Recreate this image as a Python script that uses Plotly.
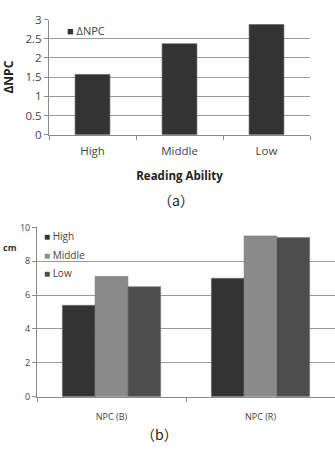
import plotly.graph_objects as go

W, H = 335, 452

# Chart (a)
a_categories = ["High", "Middle", "Low"]
a_values = [1.57, 2.37, 2.87]
a_series = "ΔNPC"
a_ticks = [0, 0.5, 1, 1.5, 2, 2.5, 3]
a_ticklabels = ["0", "0.5", "1", "1.5", "2", "2.5", "3"]

# Chart (b)
b_categories = ["NPC (B)", "NPC (R)"]
b_series = ["High", "Middle", "Low"]
b_values = {
    "High": [5.4, 7.0],
    "Middle": [7.1, 9.5],
    "Low": [6.5, 9.4],
}
b_colors = {"High": "#333333", "Middle": "#8a8a8a", "Low": "#4d4d4d"}
b_ticks = [0, 2, 4, 6, 8, 10]

FONT = "Open Sans, Noto Sans, sans-serif"
GRID = "#9a9a9a"
AXIS = "#8a8a8a"

fig = go.Figure()

fig.add_trace(go.Bar(
    x=a_categories, y=a_values, name=a_series, width=0.4,
    marker=dict(color="#333333", line=dict(color="#555555", width=0.6)),
    xaxis="x", yaxis="y", showlegend=False,
))

bw = 0.22
for i, s in enumerate(b_series):
    fig.add_trace(go.Bar(
        x=b_categories, y=b_values[s], name=s,
        width=bw, offset=-1.5 * bw + i * bw,
        marker=dict(color=b_colors[s], line=dict(color="#777777", width=0.6)),
        xaxis="x2", yaxis="y2", showlegend=False,
    ))

def px(x):
    return x / W

def py(y):
    return 1 - y / H

fig.update_layout(
    width=W, height=H,
    margin=dict(l=0, r=0, t=0, b=0),
    paper_bgcolor="white", plot_bgcolor="white",
    font=dict(family=FONT, color="#444444"),
    barmode="overlay",
    showlegend=False,
    xaxis=dict(
        domain=[px(49), px(310)], anchor="y",
        showline=True, linecolor=AXIS, linewidth=1,
        ticks="outside", tickson="boundaries", ticklen=4, tickcolor=AXIS,
        tickfont=dict(size=11.5, color="#444444"),
        ticklabelstandoff=6,
        showgrid=False,
        title=dict(text="<b>Reading Ability</b>", font=dict(size=11.5, color="#222222"), standoff=14),
    ),
    yaxis=dict(
        domain=[py(131), py(12)], anchor="x",
        range=[0, 3], tickvals=a_ticks, ticktext=a_ticklabels,
        showline=True, linecolor=AXIS, linewidth=1,
        ticks="outside", ticklen=4, tickcolor=AXIS,
        tickfont=dict(size=11.5, color="#444444"),
        showgrid=True, gridcolor=GRID, gridwidth=1,
        zeroline=False,
        title=dict(text="<b>ΔNPC</b>", font=dict(size=12, color="#222222"), standoff=10),
    ),
    xaxis2=dict(
        domain=[px(37), 1.0], anchor="y2",
        showline=True, linecolor=AXIS, linewidth=1,
        ticks="outside", tickson="boundaries", ticklen=4, tickcolor=AXIS,
        tickfont=dict(size=9, color="#444444"),
        ticklabelstandoff=12,
        showgrid=False,
    ),
    yaxis2=dict(
        domain=[py(402), py(227)], anchor="x2",
        range=[0, 10], tickvals=b_ticks,
        showline=True, linecolor=AXIS, linewidth=1,
        ticks="outside", ticklen=4, tickcolor=AXIS,
        tickfont=dict(size=9, color="#444444"),
        showgrid=True, gridcolor=GRID, gridwidth=1,
        zeroline=False,
    ),
)

def legend_item(x, y, color, label, size):
    fig.add_annotation(
        text=f"<span style='color:{color};font-size:{size}px'>■</span> {label}",
        x=px(x), y=py(y), xref="paper", yref="paper",
        xanchor="left", yanchor="middle", showarrow=False,
        font=dict(size=size, color="#444444"),
    )

legend_item(65, 23, "#333333", a_series, 11)
legend_item(42, 236, b_colors["High"], "High", 10)
legend_item(42, 255, b_colors["Middle"], "Middle", 10)
legend_item(42, 274, b_colors["Low"], "Low", 10)

fig.add_annotation(
    text="（a）", x=px(176), y=py(199), xref="paper", yref="paper",
    xanchor="center", yanchor="middle",
    showarrow=False, font=dict(family="Noto Sans CJK SC", size=14, color="#222222"),
)
fig.add_annotation(
    text="（b）", x=px(159), y=0, xref="paper", yref="paper",
    xanchor="center", yanchor="bottom", borderpad=0,
    showarrow=False, font=dict(family="Noto Sans CJK SC", size=14, color="#222222"),
)
fig.add_annotation(
    text="<b>cm</b>", x=px(10), y=py(248), xref="paper", yref="paper",
    xanchor="center", yanchor="middle",
    showarrow=False, font=dict(size=9, color="#333333"),
)

fig.write_html("out.html")
